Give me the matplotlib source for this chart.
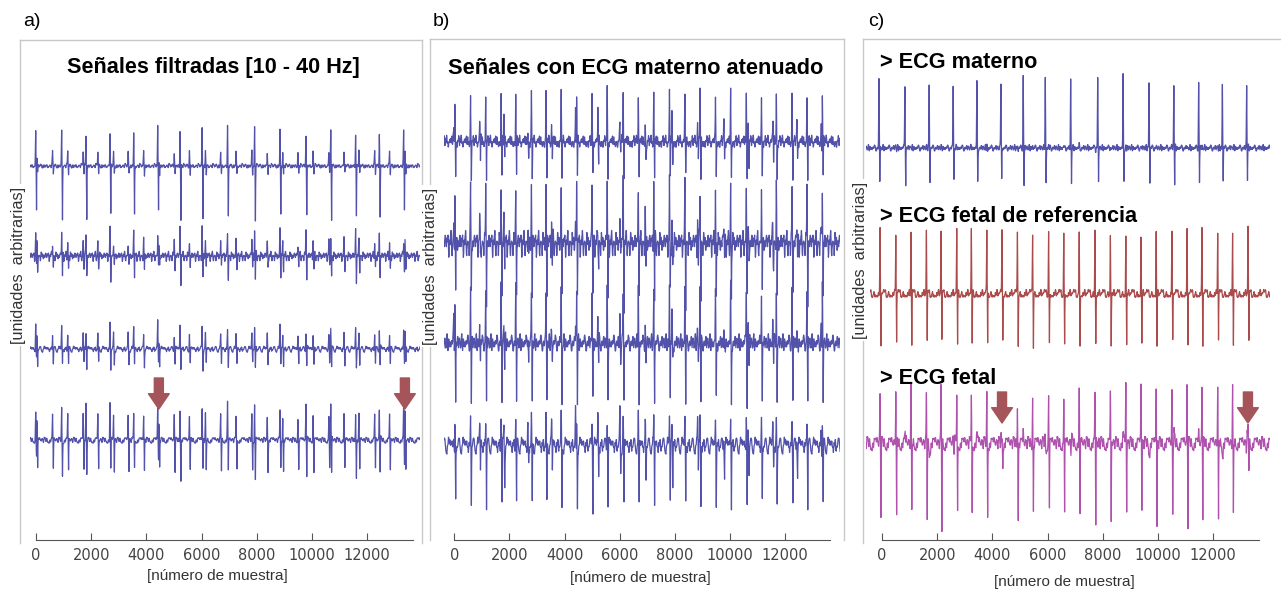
import numpy as np
import matplotlib
matplotlib.use("Agg")
from matplotlib import pyplot as plt
from matplotlib.lines import Line2D

plt.rcParams['font.family'] = ['Liberation Sans', 'DejaVu Sans']

# beat positions (sample index)
MATERNAL_BEATS = [-109, 833, 1714, 2583, 3442, 4312, 5120, 5917, 6837, 7815,
                  8743, 9685, 10580, 11475, 12344, 13225]
FETAL_BEATS = [-73, 496, 1051, 1606, 2139, 2708, 3237, 3795, 4351, 4906, 5463,
               6043, 6587, 7153, 7723, 8277, 8835, 9389, 9944, 10513, 11057,
               11601, 12170, 12714, 13266]

# R peak / S trough per beat (arbitrary units)
MATERNAL_PEAK = [65, 64, 65, 63, 62, 69, 72, 68, 66, 71, 69, 66, 63, 65, 63, 61]
MATERNAL_TROUGH = [32, 34, 35, 34, 33, 34, 36, 33, 35, 37, 33, 33, 35, 33, 32, 30]
FETAL_PEAK = [62, 60, 61, 63, 62, 61, 61, 62, 61, 61, 62, 63, 60, 63, 65, 61,
              60, 59, 61, 61, 61, 63, 61, 60, 67]
FETAL_TROUGH = [50, 48, 52, 50, 49, 52, 51, 53, 47, 50, 51, 51, 49, 51, 47, 50,
                50, 49, 51, 49, 49, 51, 47, 52, 50]
FETAL_EST_PEAK = [46, 53, 53, 45, 53, 50, 50, 51, 11, 40, 52, 51, 46, 51, 47, 51,
                  57, 58, 56, 50, 56, 57, 53, 52, 11]
FETAL_EST_TROUGH = [68, 77, 72, 73, 85, 68, 70, 70, 19, 70, 68, 67, 73, 75, 83, 82,
                    68, 65, 85, 70, 80, 75, 82, 75, 24]
MISSED_BEATS = [8, 24]   # fetal beats hidden under the maternal QRS

# QRS shape and background texture (10-sample steps)
QRS_UP = [0.1, 0.5, 1.0, 0.4, 0.05]
QRS_DOWN = [-0.35, -1.0, -0.3]
BURST = [0.3, 0.7, 1.0, 1.0, 0.8, 0.6, 0.45, 0.3, 0.2, 0.1]
NOISE = [0.2, -0.5, 0.8, -0.3, -0.9, 0.4, 0.1, 0.7, -0.6, 0.3, -0.2, 0.9, -0.8,
         0.5, -0.1, -0.4, 0.6, -0.7, 0.2, 0.8, -0.5, 0.0, -0.9, 0.3, 0.7, -0.2,
         0.4, -0.6, 0.9, -0.3, 0.1, -0.8, 0.5, 0.6, -0.4, -0.1, 0.8, -0.7, 0.2,
         -0.5, 0.4, 0.9, -0.9, 0.3, -0.2, 0.6, -0.6, 0.1, 0.7, -0.3, -0.8, 0.5, 0.0]
SMOOTH = [0.3, 0.4, 0.3]

# gains per trace: maternal up, maternal down, fetal up, fetal down, noise, burst
A_GAINS = [(0.52, 1.5, 0.23, 0.16, 2.0, 1.5),
           (0.34, 0.6, 0.24, 0.24, 4.5, 0.8),
           (0.35, 0.5, 0.24, 0.30, 2.5, 1.5),
           (0.50, 0.95, 0.40, 0.60, 2.5, 2.0)]
B_GAINS = [(0.30, 0.5, 0.80, 0.70, 7.0, 1.2),
           (0.30, 0.6, 0.95, 1.10, 12.0, 0.6),
           (0.30, 0.6, 0.90, 1.20, 8.0, 1.0),
           (0.35, 0.8, 0.45, 1.20, 7.0, 1.3)]

XTICKS = [0, 2000, 4000, 6000, 8000, 10000, 12000]

W, H = 1281, 590
BLUE, RED, MAGENTA, ARROW = '#5252aa', '#ab4c4c', '#ae52ae', '#a5555a'
STEP = 10
t = np.arange(-700, 14200, STEP)


def add_template(y, beats, heights, tmpl, offset, shift):
    for b, h in zip(beats, heights):
        i0 = int(round((b + shift - t[0]) / STEP)) + offset
        for k, v in enumerate(tmpl):
            if 0 <= i0 + k < len(y):
                y[i0 + k] += v * h


def make_trace(mu, md, fu, fd, noise, burst, stride, phase, shift,
               fpeak=FETAL_PEAK, ftrough=FETAL_TROUGH):
    idx = (np.arange(len(t)) * stride + phase) % len(NOISE)
    nz = np.convolve(np.array(NOISE)[idx], SMOOTH, mode='same') * 1.6
    env = np.ones(len(t))
    add_template(env, MATERNAL_BEATS, [burst] * len(MATERNAL_BEATS), BURST, -2, shift)
    y = noise * nz * env
    add_template(y, MATERNAL_BEATS, np.array(MATERNAL_PEAK) * mu, QRS_UP, -2, shift)
    add_template(y, MATERNAL_BEATS, np.array(MATERNAL_TROUGH) * md, QRS_DOWN, 2, shift)
    add_template(y, FETAL_BEATS, np.array(fpeak) * fu, QRS_UP, -2, shift)
    add_template(y, FETAL_BEATS, np.array(ftrough) * fd, QRS_DOWN, 2, shift)
    return y


fig = plt.figure(figsize=(W / 100, H / 100), dpi=100)


def px_axes(left, right, top=40, bottom=540):
    return fig.add_axes([left / W, (H - bottom) / H, (right - left) / W, (bottom - top) / H])


def style_axes(ax, xlim):
    ax.set_xlim(*xlim)
    ax.set_ylim(0, 500)
    for s in ['top', 'left', 'right']:
        ax.spines[s].set_visible(False)
    ax.spines['bottom'].set_bounds(0, 13650)
    ax.spines['bottom'].set_color('#555555')
    ax.set_yticks([])
    ax.set_xticks(XTICKS)
    ax.set_xticklabels([str(v) for v in XTICKS], family='DejaVu Sans', fontsize=10.5,
                       color='#444444')
    ax.tick_params(axis='x', direction='in', length=5, color='#555555', pad=6)
    ax.patch.set_alpha(0)


def frame(left, right, top, bottom):
    kw = dict(color='#c8c8c8', lw=1.0, transform=None)
    for xs, ys in [([left, left], [top, bottom]), ([left, right], [top, top]),
                   ([right, right], [top, bottom])]:
        fig.add_artist(Line2D(xs, [H - v for v in ys], **kw))


def ylab(x, y):
    fig.text(x / W, 1 - y / H, '[unidades  arbitrarias]', rotation=90, fontsize=11.7,
             color='#333333', ha='center', va='center',
             bbox=dict(facecolor='white', edgecolor='none', pad=2))


def xlab(x, y):
    fig.text(x / W, 1 - y / H, '[número de muestra]', fontsize=11, color='#333333',
             ha='center', va='center')


def arrow(ax, x, ytip, ytop):
    ax.annotate('', xy=(x, ytip), xytext=(x, ytop),
                arrowprops=dict(arrowstyle='simple,head_length=1.1,head_width=1.5,tail_width=0.65',
                                color=ARROW, mutation_scale=10, shrinkA=0, shrinkB=0))


frame(20, 422, 40, 543)
frame(430, 844, 39, 540)
frame(863, 1300, 39, 543)

# panel a
ax_a = px_axes(30, 420)
style_axes(ax_a, (-217, 13913))
base_a = [166, 256, 349, 440]
for k, (g, b) in enumerate(zip(A_GAINS, base_a)):
    y = make_trace(*g, stride=7 + 4 * k, phase=5 * k, shift=100)
    ax_a.plot(t, y + 540 - b, color=BLUE, lw=0.9)
for i in MISSED_BEATS:
    arrow(ax_a, FETAL_BEATS[i] + 100, 131, 162)

# panel b
ax_b = px_axes(444, 840)
style_axes(ax_b, (-374, 14000))
base_b = [142, 243, 343, 445]
for k, (g, b) in enumerate(zip(B_GAINS, base_b)):
    y = make_trace(*g, stride=9 + 2 * k, phase=11 * k, shift=90)
    ax_b.plot(t, y + 540 - b, color=BLUE, lw=0.9)

# panel c
ax_c = px_axes(866, 1270)
style_axes(ax_c, (-580, 14066))
y = make_trace(1.0, 1.0, 0.04, 0.04, 3.0, 0.8, stride=13, phase=3, shift=0)
ax_c.plot(t, y + 540 - 148, color=BLUE, lw=0.9)
y = make_trace(0.0, 0.0, 1.0, 1.0, 3.5, 0.0, stride=17, phase=8, shift=0)
ax_c.plot(t, y + 540 - 294, color=RED, lw=0.9)
y = make_trace(0.03, 0.03, 1.0, 1.0, 6.0, 1.3, stride=19, phase=21, shift=0,
              fpeak=FETAL_EST_PEAK, ftrough=FETAL_EST_TROUGH)
ax_c.plot(t, y + 540 - 443, color=MAGENTA, lw=0.9)
for i in MISSED_BEATS:
    arrow(ax_c, FETAL_BEATS[i], 117, 148)

# texts
fig.text(23 / W, 1 - 22 / H, 'a)', fontsize=14, va='center', ha='left')
fig.text(433 / W, 1 - 22 / H, 'b)', fontsize=14, va='center', ha='left')
fig.text(868 / W, 1 - 22 / H, 'c)', fontsize=14, va='center', ha='left')
fig.text(213 / W, 1 - 68 / H, 'Señales filtradas [10 - 40 Hz]', fontsize=15.6,
         weight='bold', ha='center', va='center')
fig.text(636 / W, 1 - 68 / H, 'Señales con ECG materno atenuado', fontsize=15.7,
         weight='bold', ha='center', va='center')
fig.text(880 / W, 1 - 63 / H, '> ECG materno', fontsize=15.6, weight='bold', va='center')
fig.text(880 / W, 1 - 217 / H, '> ECG fetal de referencia', fontsize=15.6, weight='bold',
         va='center')
fig.text(880 / W, 1 - 378 / H, '> ECG fetal', fontsize=15.6, weight='bold', va='center')

ylab(19, 265)
ylab(430, 266)
ylab(860, 260)
xlab(217, 576)
xlab(640, 578)
xlab(1064, 582)

fig.savefig('out.png', dpi=100)
